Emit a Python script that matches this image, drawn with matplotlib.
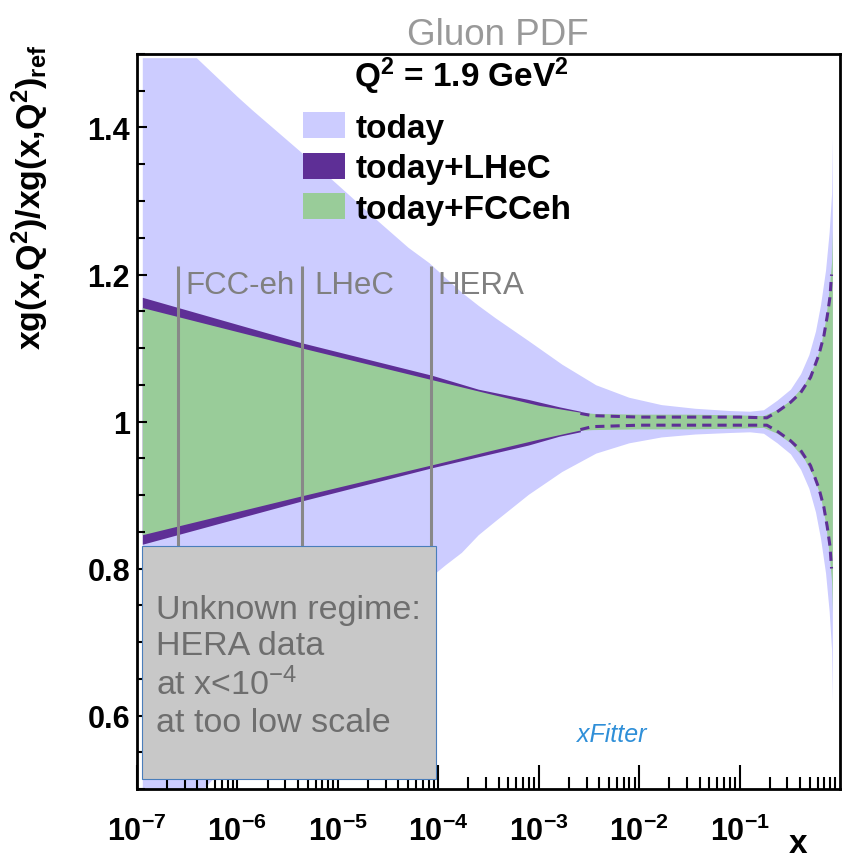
import matplotlib
matplotlib.use("Agg")
import matplotlib.pyplot as plt
from matplotlib.patches import Patch, Rectangle
from matplotlib.ticker import LogLocator, MultipleLocator, NullFormatter

plt.rcParams["font.family"] = ["Liberation Sans", "DejaVu Sans"]
plt.rcParams["mathtext.fontset"] = "custom"
plt.rcParams["mathtext.rm"] = "Liberation Sans"
plt.rcParams["mathtext.bf"] = "Liberation Sans:bold"

# --- data ----------------------------------------------------------------
# "today" band (light lavender)
x_today = [1.13e-7, 3.9e-7, 1.0e-6, 1.4e-6, 4.1e-6, 1.0e-5, 2.5e-5, 5.0e-5,
           8.1e-5, 1.17e-4, 1.7e-4, 2.5e-4, 3.7e-4, 7.9e-4, 1.7e-3, 3.7e-3,
           7.9e-3, 1.66e-2, 3.6e-2, 7.8e-2, 0.126, 0.173, 0.236, 0.321,
           0.405, 0.49, 0.57, 0.64, 0.718, 0.78, 0.824, 0.84]
today_hi = [1.495, 1.495, 1.442, 1.424, 1.369, 1.322, 1.273, 1.237,
            1.216, 1.196, 1.176, 1.158, 1.141, 1.110, 1.078, 1.050,
            1.033, 1.023, 1.018, 1.015, 1.014, 1.016, 1.029, 1.044,
            1.065, 1.091, 1.123, 1.159, 1.206, 1.258, 1.310, 1.386]
today_lo = [0.450, 0.490, 0.550, 0.570, 0.630, 0.680, 0.730, 0.765,
            0.787, 0.805, 0.822, 0.846, 0.865, 0.901, 0.932, 0.957,
            0.971, 0.979, 0.983, 0.985, 0.986, 0.984, 0.971, 0.956,
            0.935, 0.909, 0.877, 0.841, 0.794, 0.742, 0.690, 0.618]

# "today+LHeC" band (dark purple), filled part at low x
x_lhec = [1.13e-7, 4.4e-6, 8.6e-5, 2.5e-4, 7.9e-4, 1.6e-3, 2.6e-3]
lhec_hi = [1.169, 1.107, 1.063, 1.044, 1.030, 1.020, 1.014]
lhec_lo = [0.833, 0.892, 0.937, 0.952, 0.968, 0.980, 0.986]

# "today+LHeC" band edges drawn dashed at high x
x_lhec_d = [2.6e-3, 3.4e-3, 1.0e-2, 3.2e-2, 0.1, 0.187, 0.236,
            0.321, 0.405, 0.509, 0.617, 0.692, 0.746, 0.794, 0.824]
lhec_d_hi = [1.011, 1.008, 1.006, 1.006, 1.006, 1.005, 1.013,
             1.026, 1.039, 1.060, 1.091, 1.117, 1.143, 1.169, 1.200]
lhec_d_lo = [0.989, 0.993, 0.995, 0.995, 0.995, 0.995, 0.987,
             0.974, 0.961, 0.940, 0.909, 0.883, 0.857, 0.831, 0.800]

# "today+FCCeh" band (green)
x_fcc = [1.13e-7, 4.4e-6, 8.6e-5, 3.2e-4, 1.0e-3, 2.5e-3, 3.5e-3, 1.0e-2,
         3.2e-2, 0.1, 0.173, 0.236, 0.321, 0.437, 0.55, 0.64, 0.718, 0.78,
         0.824, 0.84]
fcc_hi = [1.155, 1.100, 1.057, 1.038, 1.022, 1.013, 1.011, 1.010,
          1.010, 1.009, 1.008, 1.016, 1.029, 1.050, 1.076, 1.102, 1.138,
          1.180, 1.217, 1.261]
fcc_lo = [0.846, 0.899, 0.941, 0.960, 0.976, 0.988, 0.989, 0.990,
          0.990, 0.991, 0.992, 0.984, 0.971, 0.950, 0.924, 0.898, 0.862,
          0.820, 0.783, 0.740]

# kinematic reach markers
regime_x = [2.58e-7, 4.4e-6, 8.55e-5]
regime_names = ["FCC-eh", "LHeC", "HERA"]

legend_labels = ["today", "today+LHeC", "today+FCCeh"]
xtick_vals = [1e-7, 1e-6, 1e-5, 1e-4, 1e-3, 1e-2, 1e-1]
xtick_labels = [r"10$\mathregular{^{-%d}}$" % n for n in range(7, 0, -1)]
ytick_vals = [0.6, 0.8, 1.0, 1.2, 1.4]
ytick_labels = ["0.6", "0.8", "1", "1.2", "1.4"]

c_today = "#ccccff"
c_lhec = "#5e2f96"
c_fcc = "#99cc99"

fig = plt.figure(figsize=(8.46, 8.62), dpi=100)
ax = fig.add_axes([0.1619, 0.0835, 0.8310, 0.8527])

ax.fill_between(x_today, today_lo, today_hi, color=c_today, lw=0, zorder=1)
ax.fill_between(x_lhec, lhec_lo, lhec_hi, color=c_lhec, lw=0, zorder=1.1)
ax.fill_between(x_fcc, fcc_lo, fcc_hi, color=c_fcc, lw=0, zorder=1.2)
for edge in (lhec_d_hi, lhec_d_lo):
    ax.plot(x_lhec_d, edge, color=c_lhec, lw=2.2, dashes=(3, 2), zorder=1.3)

# vertical reach lines + labels
ax.vlines(regime_x, 0.83, 1.212, color="#888888", lw=2.2, zorder=1.5)
for xv, name, off in zip(regime_x, regime_names, [5, 9, 4]):
    ax.annotate(name, (xv, 1.1755), xytext=(off, 0), textcoords="offset points",
                fontsize=22.5, color="#808080", va="baseline", ha="left", zorder=1.6)

# grey "unknown regime" box
ax.add_patch(Rectangle((1.13e-7, 0.514), 9.4e-5 - 1.13e-7, 0.831 - 0.514,
                       facecolor="#c8c8c8", edgecolor="#4a7ebb", lw=0.8, zorder=4))
ax.text(1.55e-7, 0.766,
        "Unknown regime:\nHERA data\nat x<10$\\mathregular{^{-4}}$\nat too low scale",
        fontsize=24.5, color="#6e6e6e", va="top", ha="left", linespacing=1.22, zorder=5)

ax.set_xscale("log")
ax.set_xlim(1e-7, 1)
ax.set_ylim(0.5, 1.5)

ax.set_xticks(xtick_vals)
ax.set_xticklabels(xtick_labels, fontsize=22, fontweight="bold")
ax.xaxis.set_minor_locator(LogLocator(base=10, subs=range(2, 10), numticks=20))
ax.xaxis.set_minor_formatter(NullFormatter())
ax.set_yticks(ytick_vals)
ax.set_yticklabels(ytick_labels, fontsize=22, fontweight="bold")
ax.yaxis.set_minor_locator(MultipleLocator(0.05))

ax.tick_params(axis="both", which="both", direction="in", top=False, right=False, width=1.5)
ax.tick_params(axis="x", which="major", length=17, pad=19)
ax.tick_params(axis="x", which="minor", length=8.5)
ax.tick_params(axis="y", which="major", length=7, pad=5)
ax.tick_params(axis="y", which="minor", length=5.5)
for s in ax.spines.values():
    s.set_linewidth(2)

# legend
handles = [Patch(facecolor=c) for c in (c_today, c_lhec, c_fcc)]
ax.legend(handles, legend_labels, loc="upper left", bbox_to_anchor=(0.236, 0.921),
          frameon=False, prop={"weight": "bold", "size": 24}, handlelength=1.25,
          handleheight=0.82, handletextpad=0.33, labelspacing=0.27,
          borderpad=0, borderaxespad=0)
ax.text(0.309, 0.956, "Q$\\mathregular{^2}$ = 1.9 GeV$\\mathregular{^2}$",
        transform=ax.transAxes, fontsize=24, fontweight="bold", va="baseline")

# axis titles
ax.text(-0.152, 1.014, "xg(x,Q$\\mathregular{^2}$)/xg(x,Q$\\mathregular{^2}$)$\\mathregular{_{ref}}$",
        transform=ax.transAxes, rotation=90, ha="center", va="top",
        fontsize=24.5, fontweight="bold")
ax.text(0.94, -0.074, "x", transform=ax.transAxes, ha="center", va="center",
        fontsize=24, fontweight="bold")

ax.text(0.676, 0.075, "xFitter", transform=ax.transAxes, ha="center", va="center",
        fontsize=18, style="italic", color="#2f8fd8")

fig.text(0.589, 0.948, "Gluon PDF", ha="center", va="baseline", fontsize=26.5,
         color="#999999")

fig.savefig("out.png", dpi=100)
